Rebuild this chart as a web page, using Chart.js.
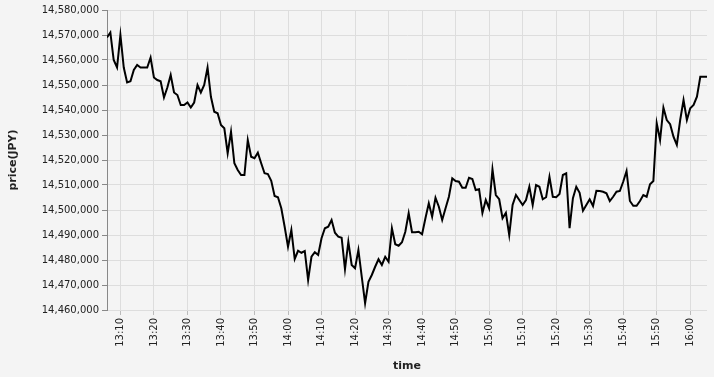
<!DOCTYPE html>
<html>
<head>
<meta charset="utf-8">
<script src="https://cdn.jsdelivr.net/npm/chart.js@4"></script>
<style>
html,body{margin:0;padding:0;background:#f4f4f4;}
canvas{display:block;}
</style>
</head>
<body>
<canvas id="c" width="714" height="377"></canvas>
<script>
// first sample time (minutes after midnight) – samples are one minute apart
const startTime = '13:06';
// price series (JPY), one value per minute
const prices = [
14569000,14571000,14560000,14557000,14570000,14557000,14551000,14551500,14556000,14558000,
14557000,14557000,14557000,14561000,14553000,14552000,14551500,14545000,14549000,14554000,
14547000,14546000,14542000,14542000,14543000,14541000,14543000,14550000,14547000,14550000,
14557000,14545300,14539300,14538700,14534000,14532700,14522700,14531300,14518700,14516000,
14514000,14514000,14528000,14521300,14520700,14522900,14518700,14514700,14514400,14511700,
14505600,14505100,14500700,14493300,14485300,14492000,14480400,14483700,14482900,14483600,
14472000,14481300,14483100,14482000,14488700,14492700,14493300,14496000,14490900,14489300,
14488900,14476300,14487300,14478000,14476700,14484000,14473300,14462700,14471300,14474000,
14477300,14480300,14478000,14481300,14479300,14492700,14486300,14485700,14487100,14491300,
14498700,14491100,14491100,14491300,14490300,14496700,14502700,14497300,14504900,14501300,
14496000,14500700,14505300,14512700,14511600,14511300,14508900,14508900,14512900,14512400,
14508000,14508300,14498800,14504000,14500700,14516300,14506000,14504300,14496700,14498900,
14490000,14502000,14506000,14504000,14502000,14504000,14509300,14502000,14510000,14509300,
14504300,14505100,14513300,14505300,14505100,14506400,14514000,14514700,14492700,14504700,
14509300,14506900,14499700,14502000,14504300,14501600,14507700,14507600,14507300,14506700,
14503600,14505300,14507300,14507600,14511300,14515600,14503600,14501700,14501700,14503600,
14506000,14505300,14510300,14511600,14534700,14528000,14540900,14536000,14534300,14529300,
14526000,14536000,14544000,14536000,14540700,14542000,14545300,14553300,14553300,14553300
];
const xTickLabels = ['13:10','13:20','13:30','13:40','13:50','14:00','14:10','14:20','14:30','14:40',
  '14:50','15:00','15:10','15:20','15:30','15:40','15:50','16:00'];
const yTicks = [14460000,14470000,14480000,14490000,14500000,14510000,14520000,14530000,14540000,14550000,14560000,14570000,14580000];

const toMin = t => { const [h,m] = t.split(':').map(Number); return h*60+m; };
const fmt = v => { const h = Math.floor(v/60), m = v%60; return h + ':' + String(m).padStart(2,'0'); };
const start = toMin(startTime);
const points = prices.map((p,i) => ({x: start + i, y: p}));

const FONT = 'DejaVu Sans, sans-serif';
new Chart(document.getElementById('c'), {
  type: 'line',
  data: { datasets: [{ data: points, borderColor: '#000', borderWidth: 2, pointRadius: 0, tension: 0, fill: false }] },
  options: {
    responsive: false, animation: false, events: [],
    layout: { padding: { top: 10, right: 7, left: 0, bottom: 0 } },
    plugins: { legend: { display: false }, tooltip: { enabled: false } },
    scales: {
      x: {
        type: 'linear', min: start, max: start + prices.length - 1,
        afterBuildTicks: s => { s.ticks = xTickLabels.map(t => ({ value: toMin(t) })); },
        afterFit: s => { s.height = 67; },
        ticks: { callback: v => fmt(v), minRotation: 90, maxRotation: 90, autoSkip: false, padding: 3,
          color: '#222', font: { family: FONT, size: 10 } },
        grid: { color: '#dddddd', tickColor: '#bbbbbb', tickLength: 5, lineWidth: 1 },
        border: { display: false },
        title: { display: true, text: 'time', color: '#222', font: { family: FONT, size: 11, weight: 'bold' }, padding: { top: 4, bottom: 4 } }
      },
      y: {
        min: 14460000, max: 14580000,
        afterBuildTicks: s => { s.ticks = yTicks.map(v => ({ value: v })); },
        afterFit: s => { s.width = 107; },
        ticks: { callback: v => v.toLocaleString('en-US'), padding: 3, color: '#222', font: { family: FONT, size: 10 } },
        grid: { color: '#dddddd', tickColor: '#888888', tickLength: 5, lineWidth: 1 },
        border: { display: true, color: '#888888', width: 1 },
        title: { display: true, text: 'price(JPY)', color: '#222', font: { family: FONT, size: 11, weight: 'bold' }, padding: { top: 7, bottom: 4 } }
      }
    }
  }
});
</script>
</body>
</html>
